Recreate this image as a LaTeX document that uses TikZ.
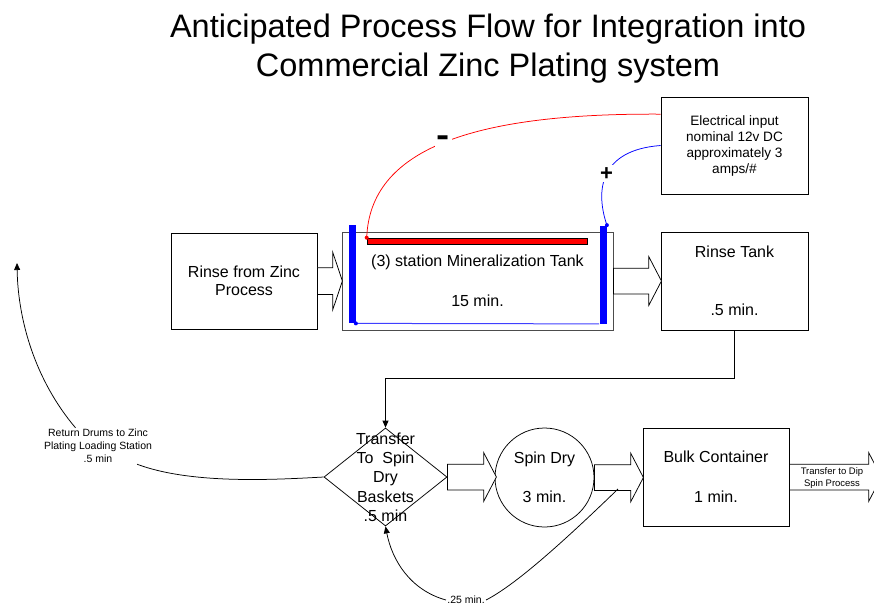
\documentclass[tikz,border=0pt]{standalone}
\usepackage{fontspec}
\setmainfont{Liberation Sans}
\usetikzlibrary{arrows.meta}
\usetikzlibrary{shapes.geometric}
\usetikzlibrary{shapes.arrows}

\begin{document}
\begin{tikzpicture}[x=1pt, y=-1pt, line width=.75pt,
        box/.style={draw, align=center, inner sep=0pt, font=\fontsize{16}{18}\selectfont},
        fatarrow/.style={single arrow, draw, fill=white, inner xsep=0pt, inner ysep=12.5pt, outer sep=0pt, anchor=tail,
            single arrow head extend=11.5pt, single arrow tip angle=125},
        tip/.style={-{Triangle[length=7pt,width=6pt]}},
        small/.style={align=center, inner sep=1pt, font=\fontsize{10.5}{13}\selectfont}]
    \useasboundingbox (0,0) rectangle (874,606);
    \clip (0,0) rectangle (874,606);

    \node[anchor=base, font=\fontsize{32.5}{38}\selectfont] (title1) at (488,37) {Anticipated Process Flow for Integration into};
    \node[anchor=base, font=\fontsize{32.5}{38}\selectfont] (title2) at (488,76) {Commercial Zinc Plating system};

    % upper line: rinse -> tank -> rinse tank
    \node[box, minimum width=147pt, minimum height=97pt, font=\fontsize{13.6}{16}\selectfont] (elec) at (734.5,145.5)
        {Electrical input\\nominal 12v DC\\approximately 3\\amps/\#};
    \node[box, minimum width=146pt, minimum height=96pt] (rinse) at (244,281) {Rinse from Zinc\\Process};
    \node[box, draw=black!70, line width=.9pt, minimum width=271pt, minimum height=98pt] (tank) at (477.5,281)
        {(3) station Mineralization Tank\\[22pt]15 min.};
    \node[box, minimum width=147pt, minimum height=98pt] (rtank) at (734.5,281) {Rinse Tank\\[40pt].5 min.};

    \node[fatarrow, minimum height=25pt, inner ysep=13pt, single arrow head extend=15.5pt, single arrow tip angle=143] (a1) at (rinse.east) {};
    \node[fatarrow, minimum height=48pt] (a2) at (tank.east) {};

    % electrodes
    \node[fill=blue, inner sep=0pt, minimum width=7pt, minimum height=98pt] (lbar) at (352,274) {};
    \node[fill=blue, inner sep=0pt, minimum width=7pt, minimum height=98pt] (rbar) at (603,274.5) {};
    \node[draw=black, fill=red, line width=.6pt, inner sep=0pt, minimum width=220pt, minimum height=6pt] (redbar) at (477,241) {};
    \draw[blue!75, line width=1pt] (lbar.south east) -- (rbar.south west);

    \draw[red] (redbar.north west) .. controls (370,150) and (470,113) .. (elec.157)
        node[pos=.5, fill=white, text=black, inner sep=3pt, font=\bfseries\fontsize{20}{20}\selectfont] (minus) {\scalebox{1}[2]{--}};
    \draw[blue] (rbar.north east) .. controls (595,190) and (600,150) .. (elec.west)
        node[pos=.5, fill=white, text=black, inner sep=2pt, font=\bfseries\fontsize{22}{22}\selectfont] (plus) {+};
    \fill[red] (redbar.north west) circle (2pt);
    \fill[blue] (rbar.north east) circle (2pt);
    \fill[blue] (lbar.south east) circle (2pt);

    % lower line: transfer -> spin dry -> bulk
    \node[diamond, draw, inner sep=0pt, minimum width=123pt, minimum height=98pt] (xfer) at (385.5,477) {};
    \node[align=center, inner sep=0pt, font=\fontsize{16}{19.3}\selectfont] (xfertext) at (385.5,477)
        {Transfer\\To\ \ Spin\\Dry\\Baskets\\.5 min};
    \node[circle, draw, inner sep=0pt, minimum size=99pt, align=center, font=\fontsize{16}{18}\selectfont] (spin) at (544.5,477.5)
        {Spin Dry\\[21pt]3 min.};
    \node[box, minimum width=146pt, minimum height=98pt] (bulk) at (716,477) {Bulk Container\\[22pt]1 min.};

    \node[fatarrow, minimum height=49pt] (a3) at (xfer.east) {};
    \node[fatarrow, minimum height=49pt] (a4) at (spin.east) {};
    \node[fatarrow, minimum height=92pt] (a5) at (bulk.east) {};
    \node[align=center, inner sep=0pt, font=\fontsize{9.5}{11.5}\selectfont] (dipnote) at (832,478) {Transfer to Dip\\Spin Process};

    \draw[tip] (rtank.south) -- (rtank.south |- 0,378) -| (xfer.north);

    % return loops
    \node[small] (ret) at (98,446) {Return Drums to Zinc\\Plating Loading Station\\.5 min};
    \coordinate (loadst) at (17,263);
    \draw (xfer.west) .. controls (270,480) and (190,484) .. (ret.-25);
    \draw[tip] (ret.141) .. controls (35,380) and (18,320) .. (loadst);

    \node[small] (lbl25) at (466,600) {.25 min.};
    \coordinate (spinout) at (618,489);
    \draw (spinout) .. controls (560,545) and (515,585) .. (lbl25.east);
    \draw[tip] (lbl25.west) .. controls (410,590) and (392,560) .. (xfer.south);
\end{tikzpicture}
\end{document}
